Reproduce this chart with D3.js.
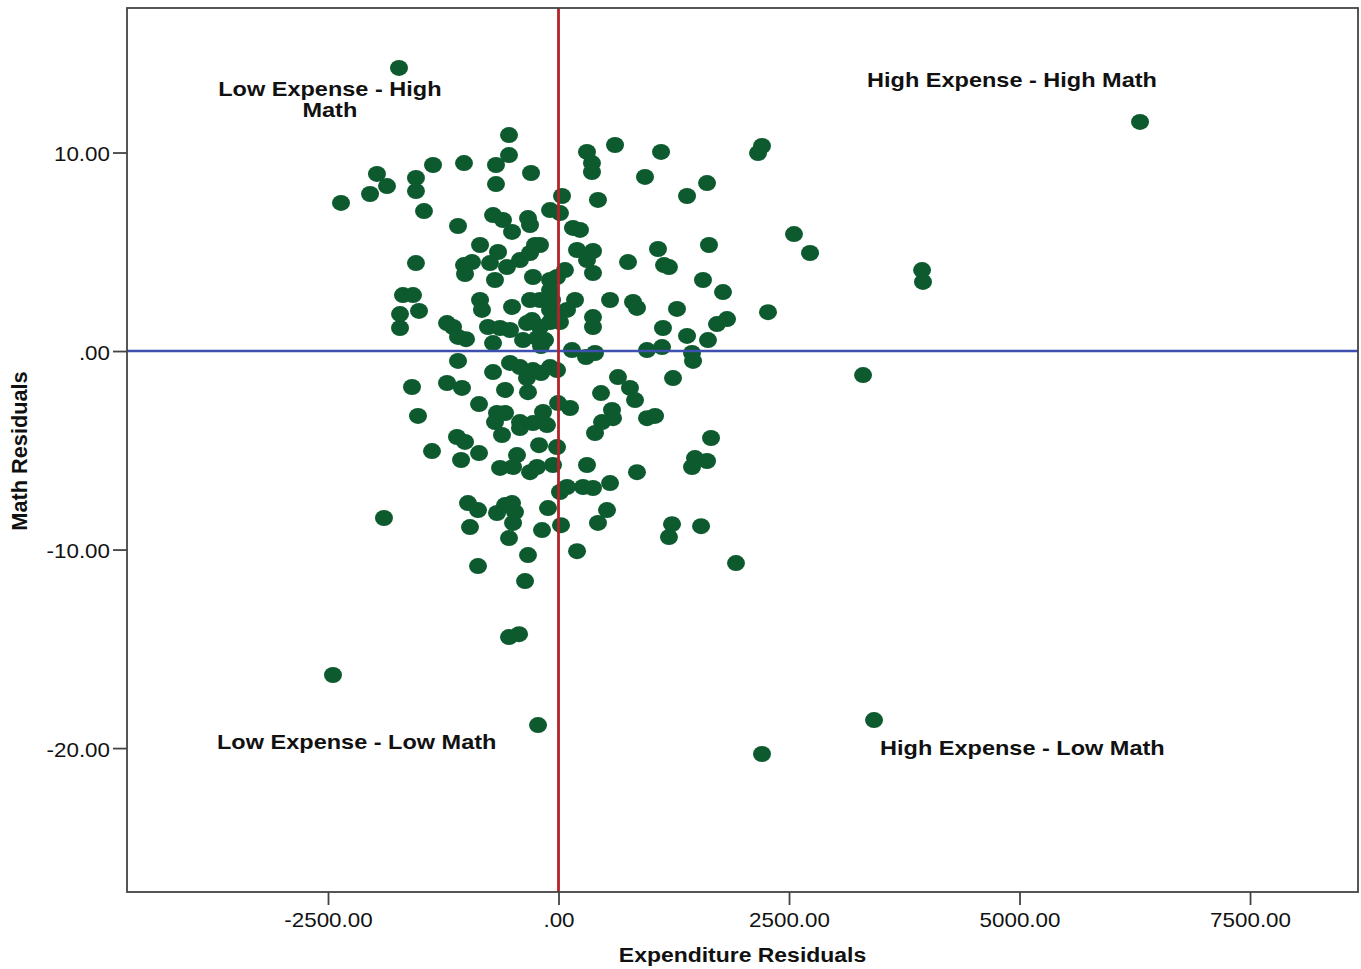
<!DOCTYPE html>
<html>
<head>
<meta charset="utf-8">
<script src="https://cdn.jsdelivr.net/npm/d3@7"></script>
<style>
  body { margin: 0; background: #fff; }
  text { font-family: "Liberation Sans", Arial, sans-serif; fill: #111; }
</style>
</head>
<body>
<script>
// [expenditure residual, math residual]
const points = [
  [-1730, 14.26], [6307, 11.54], [2207, 10.33], [2164, 9.97], [3943, 4.08], [3953, 3.48],
  [3303, -1.21], [-2446, -16.32], [-222, -18.84], [3422, -18.59], [2207, -20.3], [-1893, -8.41],
  [-873, -10.83], [-537, -14.41], [-428, -14.26], [-363, -11.59], [-331, -10.28], [2554, 5.89],
  [2728, 4.94], [2272, 1.96],
  [-537, 10.88], [-537, 9.87], [-678, 9.37], [-678, 8.41], [-1025, 9.47], [-1361, 9.37],
  [-1969, 8.92], [-1860, 8.31], [-2044, 7.91], [-2359, 7.46], [-1546, 8.72], [-1546, 8.06],
  [-1459, 7.05], [-298, 8.97], [-1090, 6.3], [-1546, 4.43], [-1687, 2.82], [-1578, 2.82],
  [-1719, 1.86], [-1719, 1.16], [-1513, 2.02], [-1209, 1.41], [-1144, 1.21], [-1090, 0.71],
  [-1003, 0.6], [-1025, 4.33], [-938, 4.48], [-1014, 3.88],
  [-710, 6.85], [-602, 6.6], [-504, 6.0], [-331, 6.7], [-309, 6.35], [-92, 7.1], [16, 6.95],
  [38, 7.81], [157, 6.2], [233, 6.1], [-851, 5.34], [-656, 4.99], [-743, 4.43], [-559, 4.23],
  [-418, 4.58], [-309, 4.94], [-255, 5.34], [-201, 5.34], [-277, 3.73], [-689, 3.58], [-16, 3.73],
  [70, 4.08], [-92, 3.58], [201, 5.09], [374, 5.04], [309, 4.58], [374, 3.93], [-851, 2.57],
  [-830, 2.07], [-504, 2.22], [-309, 2.57], [-201, 2.57], [-92, 3.07], [-70, 2.57], [-92, 2.07],
  [179, 2.57], [92, 2.07], [-765, 1.21], [-634, 1.16], [-526, 1.06], [-342, 1.41], [-287, 1.56],
  [-201, 1.21], [-92, 1.46], [16, 1.46], [-710, 0.4], [-385, 0.55], [-233, 0.65], [-146, 0.55],
  [146, 0.05], [374, 1.71], [374, 1.21], [298, -0.3], [396, -0.1], [-190, 0.25],
  [309, 10.03], [363, 9.47], [363, 9.02], [613, 10.38], [1112, 10.03], [938, 8.77], [1611, 8.46],
  [1394, 7.81], [428, 7.61], [754, 4.48], [1079, 5.14], [1144, 4.33], [1198, 4.23], [1632, 5.34],
  [1567, 3.58], [1784, 2.97], [559, 2.57], [808, 2.47], [851, 2.17], [1285, 2.12], [1133, 1.16],
  [1394, 0.76], [1621, 0.55], [1719, 1.36], [1828, 1.61], [960, 0.05], [1123, 0.2], [1448, -0.1],
  [1459, -0.5],
  [-1090, -0.5], [-710, -1.06], [-1589, -1.81], [-1209, -1.61], [-1047, -1.86], [-580, -1.96],
  [-331, -2.07], [-862, -2.67], [-1524, -3.27], [-667, -3.12], [-580, -3.12], [-689, -3.58],
  [-418, -3.58], [-418, -3.88], [-277, -3.63], [-125, -3.73], [-168, -3.07], [-613, -4.23],
  [-1101, -4.33], [-1014, -4.58], [-1372, -5.04], [-1057, -5.49], [-862, -5.14], [-211, -4.74],
  [-16, -4.84], [-450, -5.24], [-634, -5.89], [-493, -5.84], [-309, -6.1], [-233, -5.84],
  [-60, -5.74], [16, -7.1], [92, -6.85], [-982, -7.66], [-873, -8.01], [-667, -8.16], [-580, -7.76],
  [-504, -7.66], [-472, -8.11], [-493, -8.66], [-960, -8.87], [-537, -9.42], [-179, -9.02],
  [-114, -7.91], [27, -8.77], [-526, -0.6], [-418, -0.81], [-277, -0.96], [-190, -1.11],
  [-342, -1.36], [-92, -0.81], [-16, -0.96], [-5, -2.62], [125, -2.87],
  [645, -1.31], [775, -1.86], [830, -2.47], [1242, -1.36], [461, -2.12], [580, -2.97], [591, -3.38],
  [472, -3.58], [396, -4.13], [960, -3.38], [1047, -3.27], [1654, -4.38], [309, -5.74], [851, -6.1],
  [1480, -5.39], [1448, -5.84], [1611, -5.54], [266, -6.85], [374, -6.9], [559, -6.65], [526, -8.01],
  [428, -8.66], [1231, -8.72], [1198, -9.37], [1546, -8.82], [201, -10.08], [1925, -10.68]
];

const xTicks = [-2500, 0, 2500, 5000, 7500];
const yTicks = [10, 0, -10, -20];

// label anchor: centred for the two-line one, start for the rest
const quadrantLabels = [
  { lines: ["Low Expense - High", "Math"], x: -2480, y: 12.85, anchor: "middle" },
  { lines: ["High Expense - High Math"], x: 3346, y: 13.3, anchor: "start" },
  { lines: ["Low Expense - Low Math"], x: -3704, y: -20.05, anchor: "start" },
  { lines: ["High Expense - Low Math"], x: 3487, y: -20.37, anchor: "start" }
];

const xTitle = "Expenditure Residuals";
const yTitle = "Math Residuals";

const W = 1361, H = 969;
const plot = { left: 127, right: 1358, top: 8, bottom: 892 };
const stretch = 1.12;

const x = d3.scaleLinear().domain([-4680, 8671]).range([plot.left, plot.right]);
const y = d3.scaleLinear().domain([-27.25, 17.28]).range([plot.bottom, plot.top]);

const fmt = (v) => {
  const s = v.toFixed(2);
  return s.replace(/^0\./, ".");
};

const svg = d3.select("body").append("svg").attr("width", W).attr("height", H);

// points
svg.append("g")
  .selectAll("ellipse")
  .data(points)
  .join("ellipse")
  .attr("cx", (d) => x(d[0]))
  .attr("cy", (d) => y(d[1]))
  .attr("rx", 9)
  .attr("ry", 8)
  .attr("fill", "#0c5a2e");

// reference lines
svg.append("line")
  .attr("x1", plot.left).attr("x2", plot.right)
  .attr("y1", y(0)).attr("y2", y(0))
  .attr("stroke", "#3d50b0").attr("stroke-width", 2.6);
svg.append("line")
  .attr("x1", x(0)).attr("x2", x(0))
  .attr("y1", plot.top).attr("y2", plot.bottom)
  .attr("stroke", "#b3232a").attr("stroke-width", 2.8);

// frame
svg.append("rect")
  .attr("x", plot.left).attr("y", plot.top)
  .attr("width", plot.right - plot.left).attr("height", plot.bottom - plot.top)
  .attr("fill", "none").attr("stroke", "#444").attr("stroke-width", 1.8);

// axes
const xAxis = svg.append("g")
  .attr("transform", `translate(0,${plot.bottom})`)
  .call(d3.axisBottom(x).tickValues(xTicks).tickFormat(fmt).tickSize(13).tickPadding(0));
const yAxis = svg.append("g")
  .attr("transform", `translate(${plot.left},0)`)
  .call(d3.axisLeft(y).tickValues(yTicks).tickFormat(fmt).tickSize(14).tickPadding(0));

[xAxis, yAxis].forEach((g) => {
  g.select(".domain").remove();
  g.selectAll(".tick line").attr("stroke", "#444").attr("stroke-width", 1.8);
  g.selectAll(".tick text")
    .attr("font-size", 20)
    .attr("fill", "#111")
    .style("font-family", '"Liberation Sans", Arial, sans-serif');
});
xAxis.selectAll(".tick text")
  .attr("y", 0).attr("dy", null)
  .attr("transform", `translate(0,35) scale(${stretch},1)`);
yAxis.selectAll(".tick text")
  .attr("x", 0).attr("dy", null)
  .attr("transform", `translate(-17,8) scale(${stretch},1)`);

// axis titles
svg.append("text")
  .attr("transform", `translate(${(plot.left + plot.right) / 2},962) scale(${stretch},1)`)
  .attr("text-anchor", "middle")
  .attr("font-size", 20.5)
  .attr("font-weight", "bold")
  .text(xTitle);
svg.append("text")
  .attr("transform", `translate(27,451) rotate(-90) scale(1.06,1.06)`)
  .attr("text-anchor", "middle")
  .attr("font-size", 20.5)
  .attr("font-weight", "bold")
  .text(yTitle);

// quadrant annotations
quadrantLabels.forEach((q) => {
  const t = svg.append("text")
    .attr("transform", `translate(${x(q.x)},${y(q.y)}) scale(${stretch},1)`)
    .attr("text-anchor", q.anchor)
    .attr("font-size", 21)
    .attr("font-weight", "bold");
  q.lines.forEach((line, i) => {
    t.append("tspan").attr("x", 0).attr("dy", i === 0 ? 0 : "1.0em").text(line);
  });
});
</script>
</body>
</html>
